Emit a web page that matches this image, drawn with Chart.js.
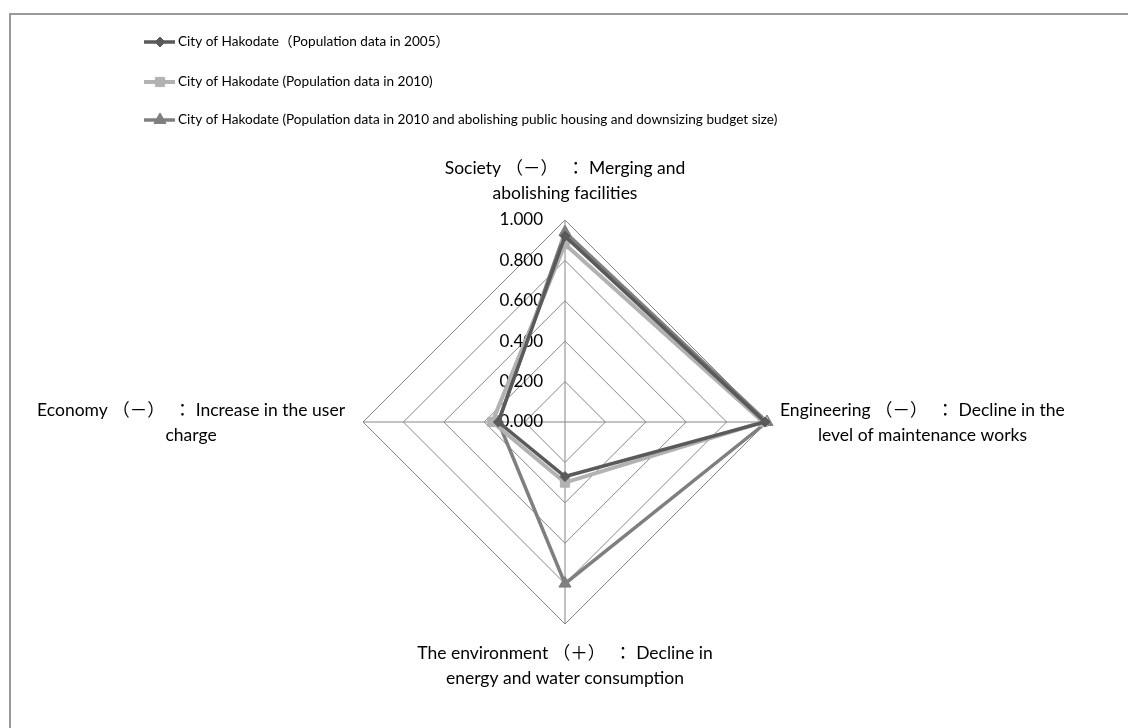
<!DOCTYPE html>
<html>
<head>
<meta charset="utf-8">
<title>Hakodate radar</title>
<script src="https://cdn.jsdelivr.net/npm/chart.js@4.4.1/dist/chart.umd.min.js"></script>
<style>
  html, body { margin: 0; padding: 0; background: #fff; }
  #wrap { width: 1128px; height: 728px; }
</style>
</head>
<body>
<div id="wrap"><canvas id="radar" width="1128" height="728"></canvas></div>
<script>
// axis titles, clockwise from the top
const axisTitles = [
  ['Society （－）  ： Merging and', 'abolishing facilities'],
  ['Engineering （－）  ： Decline in the', 'level of maintenance works'],
  ['The environment （＋）  ： Decline in', 'energy and water consumption'],
  ['Economy （－）  ： Increase in the user', 'charge']
];

const seriesNames = [
  'City of Hakodate（Population data in 2005）',
  'City of Hakodate (Population data in 2010)',
  'City of Hakodate (Population data in 2010 and abolishing public housing and downsizing budget size)'
];

const pop2005 = [0.92, 0.99, 0.27, 0.33];
const pop2010 = [0.88, 0.98, 0.30, 0.36];
const pop2010Cut = [0.94, 1.00, 0.80, 0.33];

const tickValues = [0, 0.2, 0.4, 0.6, 0.8, 1.0];

const FONT = "Lato, 'Noto Sans CJK JP', sans-serif";
const GRID = '#868686';

// ticks, axis titles, legend and frame are painted by hand
const decor = {
  id: 'decor',
  beforeDraw(chart) {
    const ctx = chart.ctx;
    ctx.save();
    ctx.fillStyle = '#9a9a9a';
    ctx.fillRect(9, 13, chart.width, 2);
    ctx.fillRect(9, 13, 2, chart.height);
    ctx.restore();
  },
  beforeDatasetsDraw(chart) {
    const s = chart.scales.r;
    const ctx = chart.ctx;
    ctx.save();
    ctx.fillStyle = '#000';
    ctx.textBaseline = 'middle';

    ctx.font = '17px ' + FONT;
    ctx.textAlign = 'right';
    s.ticks.forEach(t => {
      const y = s.yCenter - s.getDistanceFromCenterForValue(t.value);
      ctx.fillText(t.value.toFixed(3), s.xCenter - 22, y);
    });

    ctx.font = '17.5px ' + FONT;
    ctx.textAlign = 'center';
    const lineH = 25;
    chart.data.labels.forEach((lines, i) => {
      const p = s.getPointPosition(i, s.drawingArea);
      const n = lines.length;
      const w = Math.max(...lines.map(l => ctx.measureText(l).width));
      lines.forEach((txt, k) => {
        let x = p.x, y;
        if (Math.abs(p.x - s.xCenter) < 2) {
          if (p.y < s.yCenter) y = p.y - 14 - lineH / 2 - (n - 1 - k) * lineH;
          else y = p.y + 17 + lineH / 2 + k * lineH;
        } else {
          y = p.y + 1 + (k - (n - 1) / 2) * lineH;
          x = p.x > s.xCenter ? p.x + 13 + w / 2 : p.x - 18 - w / 2;
        }
        ctx.fillText(txt, x, y);
      });
    });
    ctx.restore();
  },
  afterDraw(chart) {
    const ctx = chart.ctx;
    const rows = [42, 82, 120];
    ctx.save();
    chart.data.datasets.forEach((ds, i) => {
      const y = rows[i];
      ctx.strokeStyle = ds.borderColor;
      ctx.lineWidth = ds.borderWidth;
      ctx.beginPath();
      ctx.moveTo(144, y);
      ctx.lineTo(175, y);
      ctx.stroke();
      ctx.fillStyle = ds.pointBackgroundColor;
      ctx.strokeStyle = ds.pointBorderColor;
      ctx.lineWidth = 1;
      Chart.helpers.drawPoint(ctx, {
        pointStyle: ds.pointStyle, radius: ds.pointRadius, rotation: 0, borderWidth: 1
      }, 160, y);
      ctx.fillStyle = '#000';
      ctx.font = '13.6px ' + FONT;
      ctx.textAlign = 'left';
      ctx.textBaseline = 'middle';
      ctx.fillText(ds.label, 178, y);
    });
    ctx.restore();
  }
};

function series(label, data, color, style, radius, width) {
  return {
    label, data,
    borderColor: color,
    borderWidth: width,
    pointStyle: style,
    pointRadius: radius,
    pointHoverRadius: radius,
    pointBackgroundColor: color,
    pointBorderColor: color,
    pointBorderWidth: 1,
    fill: false,
    tension: 0
  };
}

new Chart(document.getElementById('radar'), {
  type: 'radar',
  data: {
    labels: axisTitles,
    datasets: [
      series(seriesNames[0], pop2005, '#5a5a5a', 'rectRot', 5, 3.5),
      series(seriesNames[1], pop2010, '#b2b2b2', 'rect', 6.5, 4),
      series(seriesNames[2], pop2010Cut, '#7f7f7f', 'triangle', 7, 3.5)
    ]
  },
  options: {
    responsive: false,
    animation: false,
    devicePixelRatio: 1,
    layout: { padding: { top: 220, bottom: 104, left: 161, right: 159 } },
    plugins: { legend: { display: false }, tooltip: { enabled: false } },
    scales: {
      r: {
        min: 0,
        max: 1,
        afterBuildTicks: s => { s.ticks = tickValues.map(v => ({ value: v })); },
        ticks: { display: false },
        pointLabels: { display: false },
        grid: { color: GRID, lineWidth: 1 },
        angleLines: { color: GRID, lineWidth: 1 }
      }
    }
  },
  plugins: [decor]
});
</script>
</body>
</html>
